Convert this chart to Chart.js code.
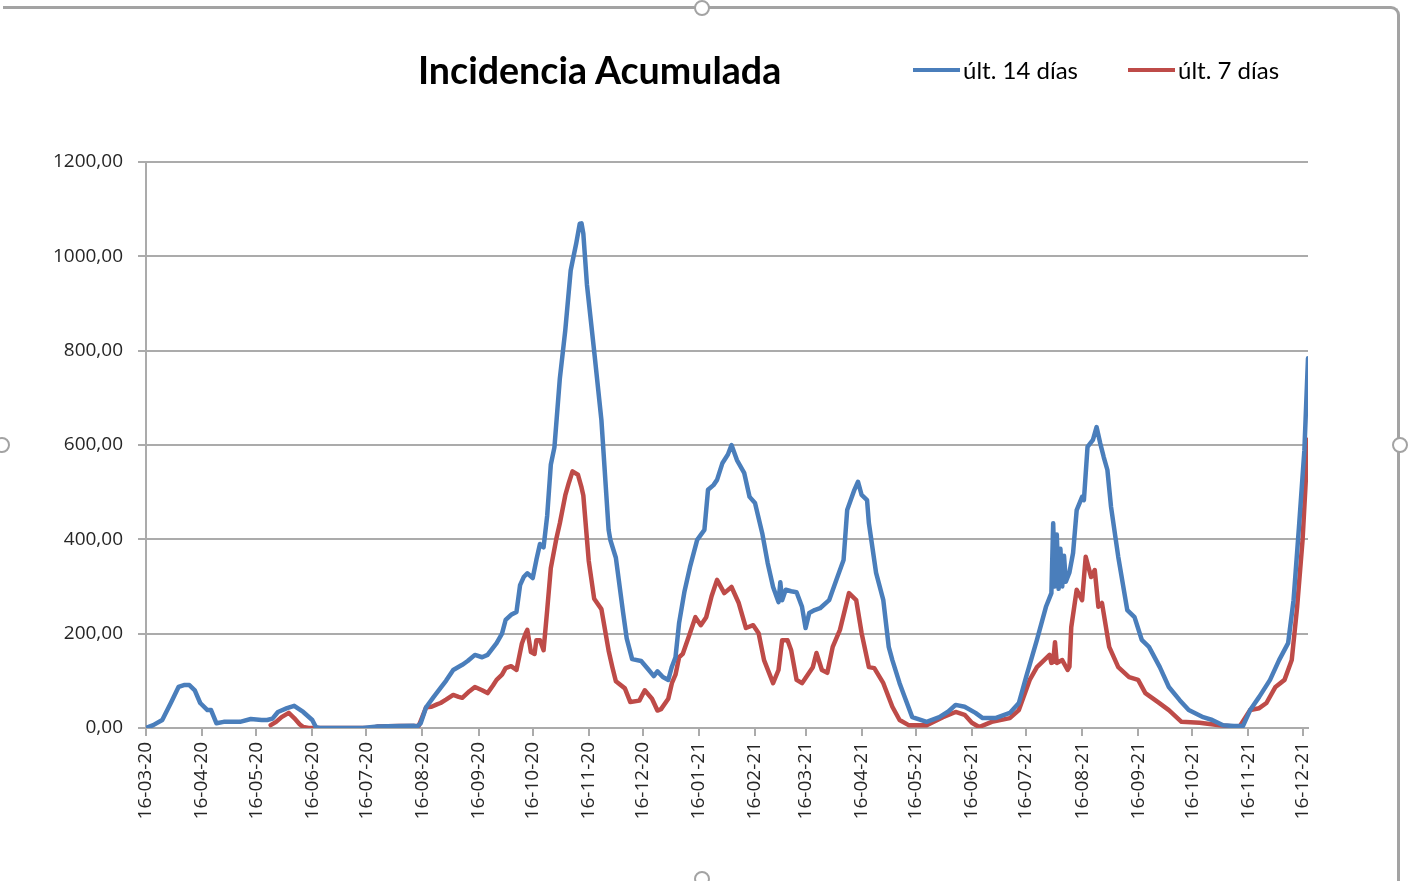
<!DOCTYPE html>
<html>
<head>
<meta charset="utf-8">
<title>Incidencia Acumulada</title>
<script src="https://cdn.jsdelivr.net/npm/chart.js@4.4.1/dist/chart.umd.min.js"></script>
<style>
  html, body { margin: 0; padding: 0; background: #fff; }
  body { width: 1408px; height: 881px; position: relative; overflow: hidden; }
  #chart { position: absolute; left: 0; top: 0; }
  .frame {
    position: absolute; left: 3px; top: 6px; width: 1394px; height: 880px;
    border-top: 3px solid #a3a3a3; border-right: 3px solid #a3a3a3;
    border-top-right-radius: 9px;
  }
  .handle {
    position: absolute; width: 12px; height: 12px; border-radius: 50%;
    background: #fff; border: 2px solid #a3a3a3;
  }
  .title {
    position: absolute; left: 418px; top: 51px;
    font: bold 37.6px Lato, sans-serif; line-height: 1; color: #000; white-space: nowrap;
  }
  .legend-item { position: absolute; top: 56px; display: flex; align-items: center; white-space: nowrap; }
  .legend-item .swatch { width: 47px; height: 4px; margin-right: 3px; }
  .legend-item .label { font: 24px Lato, sans-serif; color: #000; line-height: 28px; }
</style>
</head>
<body>
<canvas id="chart" width="1408" height="881"></canvas>
<div class="frame"></div>
<div class="handle" style="left:694px;top:0px"></div>
<div class="handle" style="left:1392px;top:437px"></div>
<div class="handle" style="left:694px;top:871px"></div>
<div class="handle" style="left:-6px;top:437px"></div>
<div class="title">Incidencia Acumulada</div>
<div id="legend"></div>

<script>
// x values are days counted from 16-03-20
const tickDays = [0, 31, 61, 92, 122, 153, 184, 214, 245, 275, 306, 337, 365, 396, 426, 457, 487, 518, 549, 579, 610, 640];
const tickLabels = ['16-03-20', '16-04-20', '16-05-20', '16-06-20', '16-07-20', '16-08-20', '16-09-20',
  '16-10-20', '16-11-20', '16-12-20', '16-01-21', '16-02-21', '16-03-21', '16-04-21', '16-05-21',
  '16-06-21', '16-07-21', '16-08-21', '16-09-21', '16-10-21', '16-11-21', '16-12-21'];

const seriesNames = ['últ. 14 días', 'últ. 7 días'];
const seriesColors = ['#4a7ebb', '#be4b48'];

// últ. 14 días
const days14 = [0, 4, 9, 14, 18, 21, 24, 27, 30, 34,
  36, 39, 43, 52, 58, 64, 67, 70, 73, 78,
  82, 87, 92, 94, 96, 120, 128, 140, 148, 150,
  152, 155, 159, 163, 166, 170, 175, 178, 182, 186,
  189, 194, 197, 199, 202, 205, 207, 209, 211, 214,
  216, 218, 220, 222, 224, 226, 229, 232, 235, 236,
  238, 240, 241, 242, 244, 248, 252, 256, 257, 260,
  264, 266, 269, 274, 278, 281, 283, 286, 289, 291,
  293, 295, 298, 301, 305, 309, 311, 314, 316, 319,
  322, 324, 327, 331, 334, 337, 341, 344, 347, 350,
  351, 352, 354, 357, 360, 363, 365, 367, 370, 373,
  378, 382, 386, 388, 392, 394, 396, 399, 400, 404,
  408, 411, 413, 417, 419, 424, 432, 439, 444, 448,
  453, 459, 463, 470, 478, 483, 487, 493, 498, 501,
  502, 503, 504, 505, 506, 507, 508, 509, 511, 513,
  515, 518, 519, 521, 524, 526, 528, 530, 532, 534,
  538, 543, 547, 551, 555, 561, 566, 572, 577, 585,
  590, 596, 602, 607, 611, 616, 622, 627, 632, 635,
  638, 641, 643];
const vals14 = [0, 6, 17, 55, 87, 91, 91, 80, 53, 38,
  38, 10, 13, 13, 19, 17, 17, 20, 34, 42,
  47, 34, 17, 2, 0, 0, 3, 4, 5, 3,
  10, 44, 65, 85, 100, 123, 134, 142, 155, 150,
  155, 180, 200, 229, 240, 246, 303, 320, 328, 318,
  356, 390, 383, 450, 558, 595, 741, 843, 970, 989,
  1026, 1069, 1070, 1048, 940, 799, 653, 420, 398, 361,
  245, 190, 146, 142, 124, 110, 120, 108, 102, 130,
  150, 223, 290, 341, 399, 420, 505, 515, 526, 562,
  580, 600, 568, 541, 490, 477, 413, 350, 299, 267,
  309, 271, 293, 290, 288, 257, 212, 244, 250, 254,
  271, 314, 356, 462, 505, 522, 494, 483, 435, 329,
  271, 172, 144, 95, 74, 23, 13, 23, 35, 49,
  45, 32, 21, 21, 32, 53, 108, 187, 257, 286,
  434, 300, 410, 295, 380, 300, 365, 310, 330, 371,
  462, 490, 483, 596, 611, 638, 604, 574, 547, 469,
  363, 250, 235, 187, 172, 129, 87, 59, 38, 23,
  17, 6, 4, 4, 38, 66, 102, 144, 180, 271,
  426, 589, 784];

// últ. 7 días
const days7 = [69, 72, 75, 79, 82, 85, 87, 90, 125, 128,
  140, 148, 151, 155, 158, 161, 163, 166, 170, 173,
  175, 179, 182, 186, 189, 192, 194, 197, 199, 202,
  205, 208, 210, 211, 213, 215, 216, 218, 220, 222,
  224, 227, 229, 232, 234, 236, 239, 241, 242, 245,
  248, 252, 256, 258, 260, 265, 268, 273, 276, 280,
  283, 285, 289, 291, 293, 295, 297, 301, 304, 307,
  310, 313, 316, 320, 324, 328, 332, 336, 339, 342,
  347, 350, 352, 355, 357, 360, 363, 369, 371, 374,
  377, 380, 384, 389, 393, 396, 400, 403, 408, 413,
  417, 422, 432, 441, 448, 453, 457, 461, 468, 478,
  483, 489, 493, 496, 500, 501, 502, 503, 504, 507,
  510, 511, 512, 515, 518, 520, 523, 525, 527, 529,
  533, 538, 544, 549, 553, 560, 566, 573, 583, 594,
  605, 611, 616, 620, 625, 630, 634, 637, 640, 643];
const vals7 = [6, 13, 23, 32, 21, 8, 2, 0, 0, 3,
  4, 4, 5, 44, 45, 50, 53, 60, 70, 66,
  64, 78, 87, 80, 74, 90, 102, 113, 127, 131,
  123, 179, 200, 208, 161, 157, 186, 186, 165, 250,
  339, 400, 434, 493, 520, 544, 537, 510, 493, 354,
  274, 252, 164, 130, 99, 84, 55, 58, 80, 62,
  37, 40, 62, 95, 113, 150, 157, 201, 235, 218,
  235, 280, 314, 286, 299, 265, 212, 218, 201, 144,
  95, 123, 186, 186, 165, 102, 95, 129, 159, 123,
  117, 172, 208, 286, 271, 201, 129, 127, 95, 45,
  17, 6, 6, 23, 34, 28, 11, 2, 13, 21,
  38, 102, 129, 140, 155, 138, 140, 182, 138, 144,
  123, 130, 214, 293, 271, 363, 320, 335, 257, 265,
  172, 129, 108, 102, 74, 55, 38, 13, 11, 6,
  2, 38, 42, 53, 87, 102, 144, 257, 399, 611];

const yTicks = [0, 200, 400, 600, 800, 1000, 1200];

const gridColor = '#ababab';
const tickFont = { family: "'Open Sans', sans-serif", size: 19 };

function toPoints(days, vals) {
  return days.map((d, i) => ({ x: d, y: vals[i] }));
}

// legend drawn as html next to the title, same row like the original
const legendBox = document.getElementById('legend');
const legendLeft = [913, 1128];
seriesNames.forEach((name, i) => {
  const item = document.createElement('div');
  item.className = 'legend-item';
  item.style.left = legendLeft[i] + 'px';
  item.innerHTML = '<span class="swatch" style="background:' + seriesColors[i] + '"></span>' +
    '<span class="label">' + name + '</span>';
  legendBox.appendChild(item);
});

new Chart(document.getElementById('chart'), {
  type: 'line',
  data: {
    datasets: [
      { label: seriesNames[0], data: toPoints(days14, vals14), borderColor: seriesColors[0], backgroundColor: seriesColors[0] },
      { label: seriesNames[1], data: toPoints(days7, vals7), borderColor: seriesColors[1], backgroundColor: seriesColors[1] }
    ]
  },
  options: {
    responsive: false,
    animation: false,
    devicePixelRatio: 1,
    layout: { padding: { top: 162, right: 100, bottom: 0, left: 0 } },
    elements: {
      point: { radius: 0 },
      line: { borderWidth: 4.5, tension: 0, borderJoinStyle: 'round', borderCapStyle: 'round' }
    },
    plugins: {
      legend: { display: false },
      title: { display: false },
      tooltip: { enabled: false }
    },
    scales: {
      x: {
        type: 'linear',
        min: 0,
        max: 643,
        afterBuildTicks: (scale) => { scale.ticks = tickDays.map(v => ({ value: v })); },
        afterFit: (scale) => { scale.height = 153; },
        ticks: {
          autoSkip: false,
          minRotation: 90,
          maxRotation: 90,
          padding: 6,
          color: '#262626',
          font: tickFont,
          callback: (value, index) => tickLabels[index]
        },
        grid: { drawOnChartArea: false, tickLength: 8, color: gridColor, lineWidth: 2 },
        border: { color: gridColor, width: 2 }
      },
      y: {
        min: 0,
        max: 1200,
        afterBuildTicks: (scale) => { scale.ticks = yTicks.map(v => ({ value: v })); },
        afterFit: (scale) => { scale.width = 146; },
        ticks: {
          padding: 15,
          color: '#262626',
          font: tickFont,
          callback: (value) => value.toFixed(2).replace('.', ',')
        },
        grid: { color: gridColor, lineWidth: 2, tickLength: 8 },
        border: { color: gridColor, width: 2 }
      }
    }
  }
});
</script>
</body>
</html>
